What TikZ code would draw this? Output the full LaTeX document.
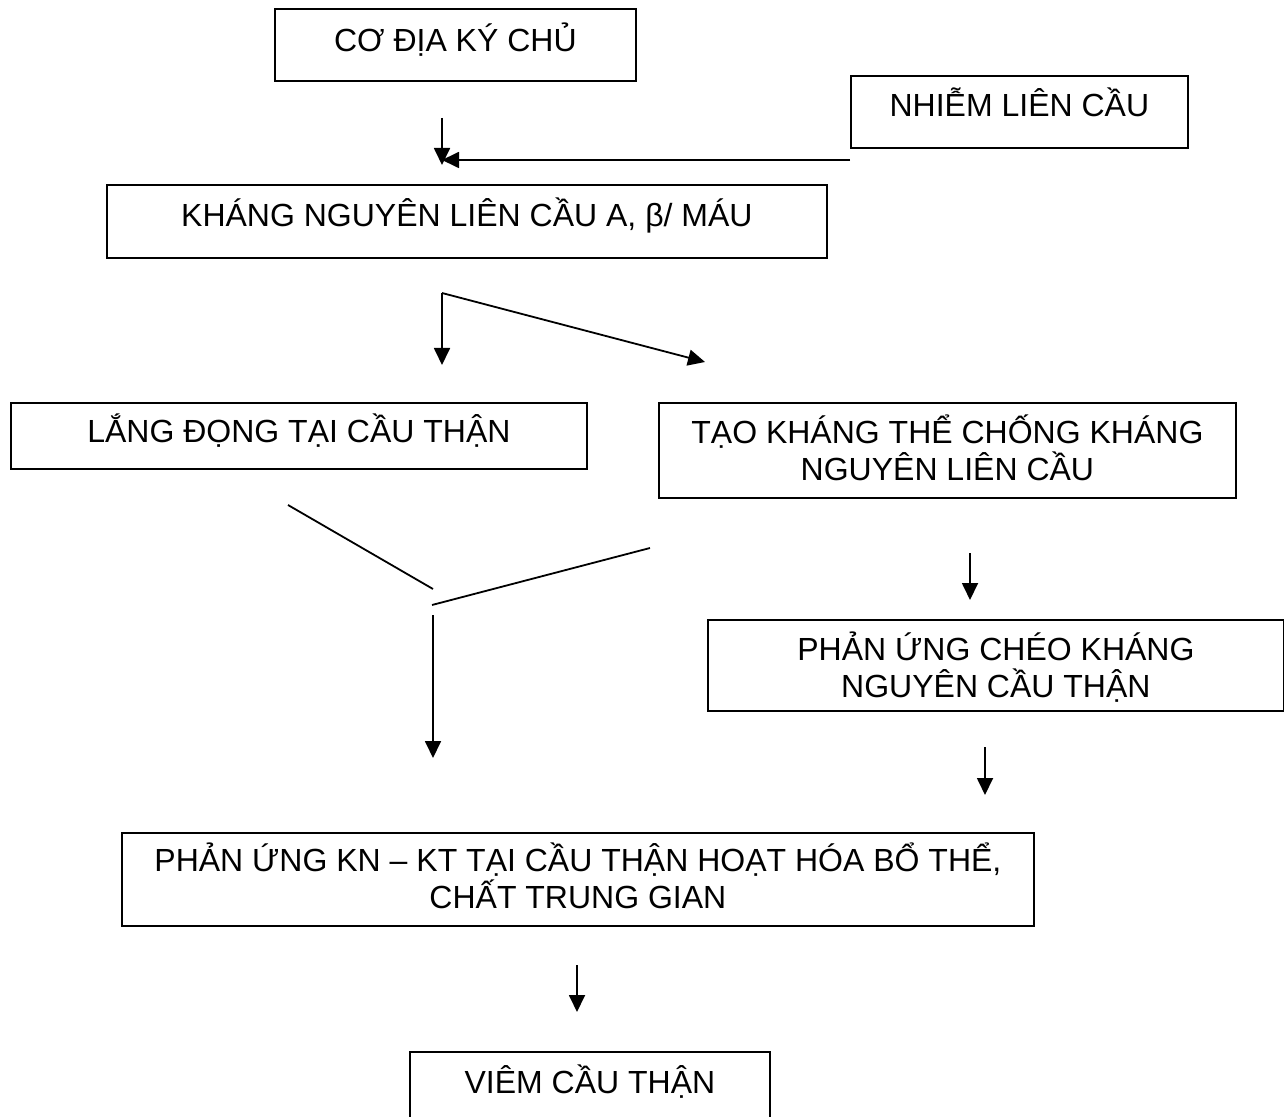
\documentclass[tikz,border=0pt]{standalone}
\usepackage{fontspec}
\setmainfont{Liberation Sans}
\usetikzlibrary{positioning,arrows.meta}
\tikzset{
  box/.style={draw, line width=0.9pt, inner sep=0pt, anchor=north west, align=center,
              font=\fontsize{16pt}{18.5pt}\selectfont},
  arr/.style={-{Triangle[length=8.5pt,width=8pt]}, line width=0.9pt},
  link/.style={line width=0.9pt}
}
\begin{document}
\begin{tikzpicture}[x=0.5pt,y=-0.5pt]
\useasboundingbox (0,0) rectangle (1284,1117);
% boxes
\node (host) [box, minimum width=180.5pt, minimum height=36pt, text height=21.5pt, text depth=14.5pt] at (274,8) {CƠ ĐỊA KÝ CHỦ};
\node (strep) [box, minimum width=168.5pt, minimum height=36pt, text height=20.5pt, text depth=15.5pt] at (850,75) {NHIỄM LIÊN CẦU};
\node (antigen) [box, minimum width=360pt, minimum height=36.5pt, text height=21pt, text depth=15.5pt] at (106,184) {KHÁNG NGUYÊN LIÊN CẦU A, β/ MÁU};
\node (deposit) [box, minimum width=288pt, minimum height=33pt, text height=20pt, text depth=13pt] at (10,402) {LẮNG ĐỌNG TẠI CẦU THẬN};
\node (antibody) [box, minimum width=288.5pt, minimum height=47.5pt, text height=39pt, text depth=8.5pt] at (658,402) {TẠO KHÁNG THỂ CHỐNG KHÁNG\\NGUYÊN LIÊN CẦU};
\node (cross) [box, minimum width=288pt, minimum height=45.5pt, text height=39pt, text depth=6.5pt] at (707,619) {PHẢN ỨNG CHÉO KHÁNG\\NGUYÊN CẦU THẬN};
\node (complex) [box, minimum width=456pt, minimum height=46.5pt, text height=38pt, text depth=8.5pt] at (121,832) {PHẢN ỨNG KN – KT TẠI CẦU THẬN HOẠT HÓA BỔ THỂ,\\CHẤT TRUNG GIAN};
\node (gn) [box, minimum width=180pt, minimum height=40pt, text height=21pt, text depth=19pt] at (409,1051) {VIÊM CẦU THẬN};
% connector ends
\coordinate (hostA) at (442,118);
\coordinate (hostB) at (442,165);
\coordinate (strepA) at (850,160);
\coordinate (strepB) at (442,160);
\coordinate (split) at (442,293);
\coordinate (splitL) at (442,365);
\coordinate (splitR) at (705,362);
\coordinate (joinL) at (288,505);
\coordinate (joinLB) at (433,589);
\coordinate (joinR) at (650,548);
\coordinate (joinRB) at (432,605);
\coordinate (joinA) at (433,615);
\coordinate (joinB) at (433,758);
\coordinate (abA) at (970,553);
\coordinate (abB) at (970,600);
\coordinate (crA) at (985,747);
\coordinate (crB) at (985,795);
\coordinate (cxA) at (577,965);
\coordinate (cxB) at (577,1012);
% arrows
\draw[arr] (hostA) -- (hostB);
\draw[arr] (strepA) -- (strepB);
\draw[arr] (split) -- (splitL);
\draw[arr] (split) -- (splitR);
\draw[link] (joinL) -- (joinLB);
\draw[link] (joinR) -- (joinRB);
\draw[arr] (joinA) -- (joinB);
\draw[arr] (abA) -- (abB);
\draw[arr] (crA) -- (crB);
\draw[arr] (cxA) -- (cxB);
\end{tikzpicture}
\end{document}
